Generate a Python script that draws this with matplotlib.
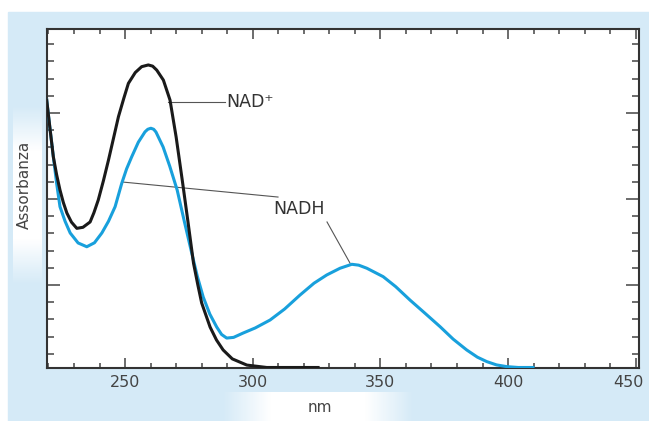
import numpy as np
import matplotlib.pyplot as plt
from matplotlib.patches import Rectangle
from matplotlib.ticker import MultipleLocator
from matplotlib.transforms import ScaledTranslation

plt.rcParams['font.family'] = ['DejaVu Sans']

# absorbance spectra (nm, arbitrary units)
nad_nm = [219.3, 220.5, 221.9, 223.2, 224.5, 225.8, 227.2, 229.0, 231.1, 233.5,
          236.3, 237.8, 239.5, 241.5, 243.5, 245.5, 247.4, 249.5, 251.3, 254.0,
          256.5, 259.1, 260.8, 262.4, 265.0, 267.6, 270.0, 272.5, 274.7, 276.8,
          278.5, 280.0, 283.3, 285.8, 288.4, 292.0, 297.7, 305.5, 325.6]
nad_abs = [1.575, 1.420, 1.245, 1.140, 1.052, 0.980, 0.918, 0.865, 0.829, 0.835,
           0.866, 0.920, 0.994, 1.105, 1.226, 1.355, 1.478, 1.585, 1.672, 1.735,
           1.769, 1.779, 1.772, 1.749, 1.691, 1.575, 1.360, 1.098, 0.860, 0.627,
           0.500, 0.395, 0.255, 0.180, 0.122, 0.070, 0.034, 0.020, 0.020]

nadh_nm = [219.3, 220.5, 221.9, 223.2, 224.5, 226.5, 228.5, 231.6, 235.0, 238.0,
           240.9, 243.5, 246.1, 248.7, 250.6, 252.6, 255.2, 257.8, 258.9, 260.1,
           261.2, 262.1, 264.9, 267.5, 270.4, 273.2, 276.1, 278.3, 280.6, 283.2,
           285.9, 287.8, 289.8, 292.5, 296.2, 301.0, 306.8, 312.5, 318.5, 324.0,
           329.0, 334.2, 338.8, 341.5, 344.7, 351.1, 356.0, 361.6, 367.5, 373.4,
           378.5, 383.8, 388.0, 391.7, 395.5, 399.5, 404.0, 409.8]
nadh_abs = [1.575, 1.420, 1.245, 1.090, 0.955, 0.870, 0.802, 0.744, 0.722, 0.745,
            0.802, 0.870, 0.955, 1.091, 1.175, 1.245, 1.330, 1.390, 1.405, 1.411,
            1.405, 1.389, 1.302, 1.190, 1.052, 0.870, 0.686, 0.550, 0.430, 0.330,
            0.255, 0.212, 0.191, 0.195, 0.220, 0.250, 0.296, 0.360, 0.441, 0.510,
            0.558, 0.597, 0.620, 0.615, 0.597, 0.548, 0.490, 0.412, 0.335, 0.257,
            0.185, 0.122, 0.080, 0.054, 0.035, 0.025, 0.020, 0.020]

W, H = 649, 421


def fig_box(x0, y0, x1, y1):
    # pixel box (top-left origin) -> figure fraction rect
    return [x0 / W, 1 - y1 / H, (x1 - x0) / W, (y1 - y0) / H]


def white_fade(rect, alpha):
    gax = fig.add_axes(rect)
    gax.axis('off')
    img = np.ones(alpha.shape + (4,))
    img[..., 3] = alpha
    gax.imshow(img, aspect='auto', interpolation='bilinear')


fig = plt.figure(figsize=(6.49, 4.21), dpi=100)
fig.add_artist(Rectangle((8 / W, 0), 1, 1 - 12 / H, transform=fig.transFigure,
                         color='#d5eaf7', zorder=-10))

t = np.linspace(0, 1, 100)
prof = np.clip(np.minimum(t, 1 - t) * 4, 0, 1)
white_fade(fig_box(222, 392, 414, 421), np.tile(prof, (10, 1)))
white_fade(fig_box(13, 105, 42, 285), np.tile(prof[:, None], (1, 10)))

ax = fig.add_axes(fig_box(46.7, 29, 639, 368))
ax.set_facecolor('white')

ax.plot(nadh_nm, nadh_abs, color='#18a0dc', lw=2.2, zorder=3,
        solid_joinstyle='round')
ax.plot(nad_nm, nad_abs, color='#1a1a1a', lw=2.2, zorder=4,
        solid_joinstyle='round')

# label pointers
ax.plot([266.8, 289.2], [1.564, 1.564], color='#555555', lw=0.8, zorder=2)
ax.text(289.6, 1.564, 'NAD⁺', va='center', ha='left', fontsize=12.5, color='#333333')
ax.plot([249.2, 309.9], [1.098, 1.011], color='#555555', lw=0.8, zorder=2)
ax.plot([329.1, 338.1], [0.866, 0.627], color='#555555', lw=0.8, zorder=2)
ax.text(308.0, 0.941, 'NADH', va='center', ha='left', fontsize=12.5, color='#333333')

ax.set_xlim(219.3, 451.3)
ax.set_ylim(0.017, 1.988)
ax.set_xticks([250, 300, 350, 400, 450])
ax.xaxis.set_minor_locator(MultipleLocator(10))
ax.yaxis.set_major_locator(MultipleLocator(0.5))
ax.yaxis.set_minor_locator(MultipleLocator(0.1))

ax.tick_params(which='both', direction='in', top=True, right=True,
               color='#444444', width=1.1)
ax.tick_params(axis='x', which='major', length=7.2, pad=5,
               labelsize=11.5, labelcolor='#444444')
ax.tick_params(axis='x', which='minor', length=3.3)
ax.tick_params(axis='y', which='major', length=9.4, labelleft=False)
ax.tick_params(axis='y', which='minor', length=5)
for s in ax.spines.values():
    s.set_linewidth(1.5)
    s.set_color('#333333')

# keep the 450 label inside the figure, as in the original
fig.canvas.draw()
for lab in ax.get_xticklabels():
    if lab.get_text() == '450':
        lab.set_transform(lab.get_transform() +
                          ScaledTranslation(-5 / 72, 0, fig.dpi_scale_trans))

fig.text(320 / W, 1 - 408 / H, 'nm', ha='center', va='center',
         fontsize=11, color='#444444')
fig.text(24 / W, 1 - 185 / H, 'Assorbanza', ha='center', va='center',
         rotation=90, fontsize=11, color='#444444')

fig.savefig('out.png', dpi=100)
